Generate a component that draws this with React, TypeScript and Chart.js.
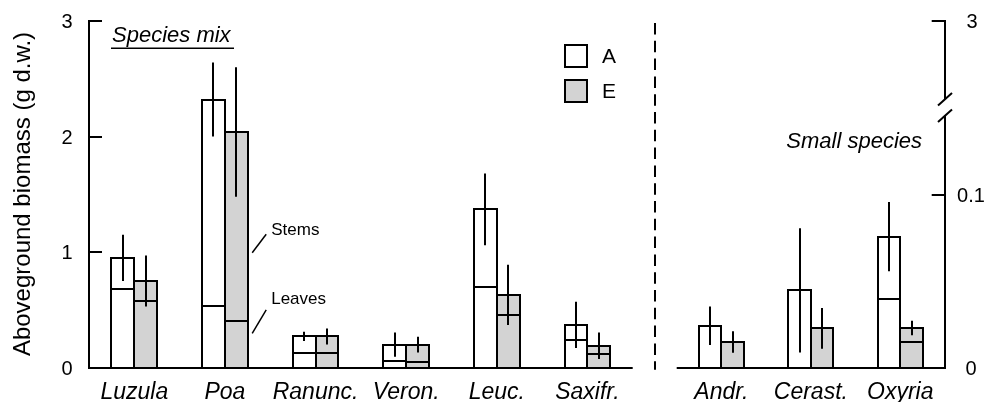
import { useEffect, useRef } from 'react';
import { Chart, registerables } from 'chart.js';

Chart.register(...registerables);

const FONT = '"Liberation Sans", Arial, sans-serif';
const GREY = '#d3d3d3';

// Species mix: total biomass, leaf fraction and SE (g d.w.)
const mixSpecies = ['Luzula', 'Poa', 'Ranunc.', 'Veron.', 'Leuc.', 'Saxifr.'];
const mixTotalA = [0.95, 2.32, 0.27, 0.2, 1.37, 0.37];
const mixLeavesA = [0.68, 0.53, 0.125, 0.06, 0.7, 0.24];
const mixErrA = [0.2, 0.32, 0.04, 0.105, 0.31, 0.2];
const mixTotalE = [0.75, 2.04, 0.27, 0.2, 0.63, 0.19];
const mixLeavesE = [0.58, 0.4, 0.125, 0.053, 0.46, 0.12];
const mixErrE = [0.22, 0.56, 0.07, 0.068, 0.26, 0.115];

// Small species (null = no leaf/stem split)
const smallSpecies = ['Andr.', 'Cerast.', 'Oxyria'];
const smallTotalA = [0.0243, 0.0448, 0.0759];
const smallLeavesA: (number | null)[] = [null, null, 0.04];
const smallErrA = [0.0112, 0.036, 0.02];
const smallTotalE = [0.0149, 0.0228, 0.023];
const smallLeavesE: (number | null)[] = [null, null, 0.0147];
const smallErrE = [0.0062, 0.0118, 0.0042];

// Axis ticks
const mixTicks = [0, 1, 2, 3];
const smallTicks = [0, 0.1];
const smallTopLabel = '3';
const smallBreakAt = 0.151;
const legendItems = ['A', 'E'];

function buildDatasets(
  totA: number[], leavesA: (number | null)[],
  totE: number[], leavesE: (number | null)[]
) {
  const lower = (t: number[], l: (number | null)[]) => t.map((v, i) => (l[i] == null ? v : l[i]));
  const upper = (t: number[], l: (number | null)[]) => t.map((v, i) => (l[i] == null ? null : v - (l[i] as number)));
  const common = { borderWidth: 0, inflateAmount: 0 };
  const styleA = { ...common, backgroundColor: '#ffffff', stack: 'A' };
  const styleE = { ...common, backgroundColor: GREY, stack: 'E' };
  return [
    { label: 'A leaves', data: lower(totA, leavesA), ...styleA },
    { label: 'A stems', data: upper(totA, leavesA), ...styleA },
    { label: 'E leaves', data: lower(totE, leavesE), ...styleE },
    { label: 'E stems', data: upper(totE, leavesE), ...styleE },
  ];
}

// Outlines every bar segment, then the SE whiskers centred on each bar
function barOverlayPlugin(totals: number[][], errs: number[][]) {
  return {
    id: 'barOverlay',
    afterDatasetsDraw(chart: any) {
      const ctx = chart.ctx as CanvasRenderingContext2D;
      const y = chart.scales.y;
      ctx.save();
      ctx.strokeStyle = '#000';
      ctx.lineWidth = 2;
      chart.data.datasets.forEach((ds: any, d: number) => {
        chart.getDatasetMeta(d).data.forEach((bar: any, i: number) => {
          if (ds.data[i] == null) return;
          const x0 = Math.round(bar.x - bar.width / 2);
          const x1 = Math.round(bar.x + bar.width / 2);
          const yt = Math.round(bar.y);
          const yb = Math.round(bar.base);
          ctx.strokeRect(x0, yt, x1 - x0, yb - yt);
        });
      });
      [0, 2].forEach((dsIndex, k) => {
        chart.getDatasetMeta(dsIndex).data.forEach((bar: any, i: number) => {
          const t = totals[k][i];
          const e = errs[k][i];
          const bx = Math.round(bar.x);
          ctx.beginPath();
          ctx.moveTo(bx, y.getPixelForValue(t + e));
          ctx.lineTo(bx, y.getPixelForValue(t - e));
          ctx.stroke();
        });
      });
      ctx.restore();
    },
  };
}

function line(ctx: CanvasRenderingContext2D, x1: number, y1: number, x2: number, y2: number) {
  ctx.beginPath();
  ctx.moveTo(x1, y1);
  ctx.lineTo(x2, y2);
  ctx.stroke();
}

function drawCategoryLabels(chart: any, labels: string[]) {
  const ctx = chart.ctx;
  const x = chart.scales.x;
  ctx.font = `italic 23px ${FONT}`;
  ctx.fillStyle = '#000';
  ctx.textAlign = 'center';
  ctx.textBaseline = 'alphabetic';
  labels.forEach((lab, i) => ctx.fillText(lab, x.getPixelForValue(i), chart.chartArea.bottom + 31.5));
}

const mixDecor = {
  id: 'mixDecor',
  afterDraw(chart: any) {
    const ctx = chart.ctx as CanvasRenderingContext2D;
    const { left, right, top, bottom } = chart.chartArea;
    const y = chart.scales.y;
    ctx.save();
    ctx.strokeStyle = '#000';
    ctx.fillStyle = '#000';
    ctx.lineWidth = 2;
    // baseline and left axis
    const base = Math.round(y.getPixelForValue(0));
    line(ctx, left, base, right, base);
    line(ctx, left, top, left, base + 1);
    ctx.font = `20px ${FONT}`;
    ctx.textAlign = 'center';
    ctx.textBaseline = 'middle';
    mixTicks.forEach((t) => {
      const py = Math.round(y.getPixelForValue(t));
      line(ctx, left - 1, py, left + 13, py);
      ctx.fillText(String(t), left - 22, py + 1);
    });
    // axis title
    ctx.save();
    ctx.translate(23, 194);
    ctx.rotate(-Math.PI / 2);
    ctx.font = `24px ${FONT}`;
    ctx.fillText('Aboveground biomass (g d.w.)', 0, 0);
    ctx.restore();
    drawCategoryLabels(chart, mixSpecies);
    // panel title
    ctx.font = `italic 22px ${FONT}`;
    ctx.textAlign = 'left';
    ctx.textBaseline = 'alphabetic';
    ctx.fillText('Species mix', 112, 42);
    ctx.lineWidth = 1.5;
    line(ctx, 111, 48.3, 234, 48.3);
    // legend
    ctx.lineWidth = 2;
    ctx.font = `21px ${FONT}`;
    ctx.textBaseline = 'middle';
    legendItems.forEach((lab, i) => {
      const by = 45 + i * 35;
      ctx.fillStyle = i === 0 ? '#ffffff' : GREY;
      ctx.fillRect(565, by, 22, 22);
      ctx.strokeRect(565, by, 22, 22);
      ctx.fillStyle = '#000';
      ctx.fillText(lab, 602, by + 12);
    });
    // stems / leaves annotation next to Poa E
    const poaE = chart.getDatasetMeta(2).data[1];
    const edge = poaE.x + poaE.width / 2;
    ctx.lineWidth = 1.5;
    line(ctx, edge + 4.4, y.getPixelForValue(0.995), edge + 18.4, y.getPixelForValue(1.155));
    line(ctx, edge + 4.4, y.getPixelForValue(0.298), edge + 18.4, y.getPixelForValue(0.5));
    ctx.font = `17px ${FONT}`;
    ctx.fillText('Stems', edge + 23.4, y.getPixelForValue(1.19));
    ctx.fillText('Leaves', edge + 23.4, y.getPixelForValue(0.592));
    // separator between the two panels
    ctx.lineWidth = 2;
    ctx.setLineDash([11.5, 6.3]);
    line(ctx, right + 22.3, top + 2, right + 22.3, bottom + 2);
    ctx.restore();
  },
};

const smallDecor = {
  id: 'smallDecor',
  afterDraw(chart: any) {
    const ctx = chart.ctx as CanvasRenderingContext2D;
    const { left, right, top, bottom } = chart.chartArea;
    const y = chart.scales.y;
    ctx.save();
    ctx.strokeStyle = '#000';
    ctx.fillStyle = '#000';
    ctx.lineWidth = 2;
    const base = Math.round(y.getPixelForValue(0));
    line(ctx, left, base, right, base);
    // right axis with break
    const ax = Math.round(right);
    const axTop = Math.round(top - 1.3);
    const bk = y.getPixelForValue(smallBreakAt);
    line(ctx, ax, axTop, ax, bk - 8);
    line(ctx, ax, bk + 8.5, ax, base + 1);
    line(ctx, ax - 7, bk - 1.5, ax + 7, bk - 14);
    line(ctx, ax - 7, bk + 15, ax + 7, bk + 2.5);
    ctx.font = `20px ${FONT}`;
    ctx.textAlign = 'center';
    ctx.textBaseline = 'middle';
    line(ctx, ax - 13.3, axTop, ax + 1, axTop);
    ctx.fillText(smallTopLabel, ax + 27, axTop + 1);
    smallTicks.forEach((t) => {
      const py = Math.round(y.getPixelForValue(t));
      line(ctx, ax - 13.3, py, ax, py);
      ctx.fillText(String(t), ax + 26, py + 1);
    });
    ctx.font = `italic 22px ${FONT}`;
    ctx.textAlign = 'right';
    ctx.fillText('Small species', right - 23, y.getPixelForValue(0.1305));
    drawCategoryLabels(chart, smallSpecies);
    ctx.restore();
  },
};

function makeChart(
  canvas: HTMLCanvasElement, labels: string[], datasets: any[], yMax: number,
  padding: { left: number; right: number; top: number; bottom: number }, plugins: any[]
) {
  return new Chart(canvas, {
    type: 'bar',
    data: { labels, datasets },
    options: {
      responsive: false,
      devicePixelRatio: 1,
      animation: false,
      layout: { padding },
      datasets: { bar: { barPercentage: 1, categoryPercentage: 0.505 } },
      scales: {
        x: { display: false, stacked: true, offset: true },
        y: { display: false, stacked: true, min: 0, max: yMax },
      },
      plugins: { legend: { display: false }, tooltip: { enabled: false } },
    },
    plugins,
  } as any);
}

export default function App() {
  const mixRef = useRef<HTMLCanvasElement>(null);
  const smallRef = useRef<HTMLCanvasElement>(null);

  useEffect(() => {
    const mix = makeChart(
      mixRef.current!, mixSpecies,
      buildDatasets(mixTotalA, mixLeavesA, mixTotalE, mixLeavesE), 3,
      { left: 89, right: 27.3, top: 21, bottom: 34.3 },
      [barOverlayPlugin([mixTotalA, mixTotalE], [mixErrA, mixErrE]), mixDecor]
    );
    const small = makeChart(
      smallRef.current!, smallSpecies,
      buildDatasets(smallTotalA, smallLeavesA, smallTotalE, smallLeavesE), 0.2,
      { left: 16.7, right: 42, top: 22.3, bottom: 34.3 },
      [barOverlayPlugin([smallTotalA, smallTotalE], [smallErrA, smallErrE]), smallDecor]
    );
    return () => {
      mix.destroy();
      small.destroy();
    };
  }, []);

  return (
    <div style={{ position: 'fixed', left: 0, top: 0, width: 987, height: 402, background: '#fff' }}>
      <canvas ref={mixRef} width={660} height={402} style={{ position: 'absolute', left: 0, top: 0 }} />
      <canvas ref={smallRef} width={327} height={402} style={{ position: 'absolute', left: 660, top: 0 }} />
    </div>
  );
}
